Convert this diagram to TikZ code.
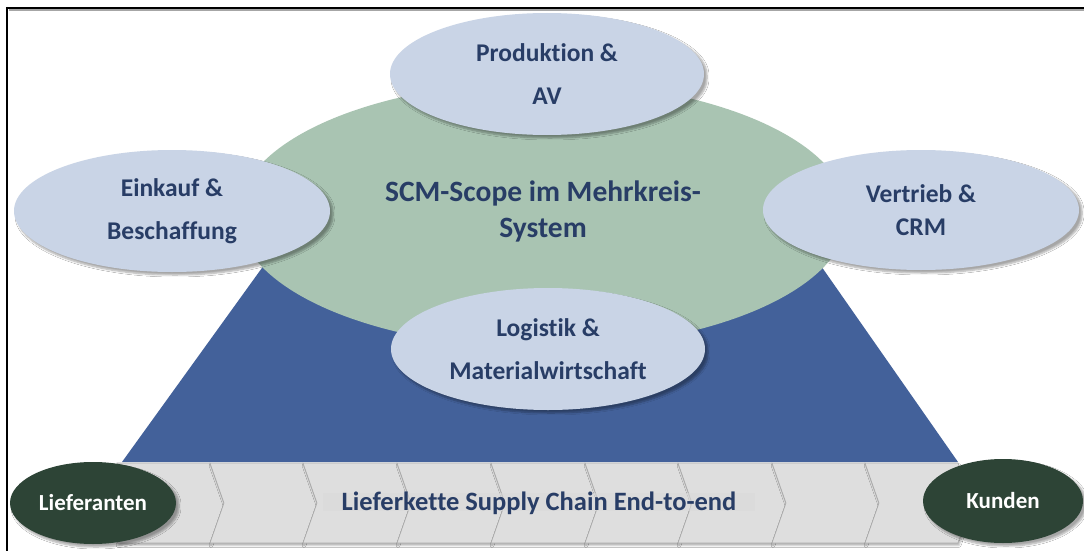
\documentclass[tikz,border=0pt]{standalone}
\usepackage{fontspec}
\setmainfont{Carlito}[Ligatures={NoCommon}]
\usetikzlibrary{shapes.geometric,shadows.blur}

\definecolor{pyramidblue}{HTML}{43619A}
\definecolor{scopegreen}{HTML}{A9C4B2}
\definecolor{areablue}{HTML}{C9D4E6}
\definecolor{endgreen}{HTML}{2D4436}
\definecolor{labelnavy}{HTML}{283D66}
\definecolor{bandgray}{HTML}{DEDEDE}
\definecolor{bandedge}{HTML}{ABABAB}

\tikzset{
  softshadow/.style={blur shadow={shadow xshift=3pt, shadow yshift=-3pt,
      shadow blur steps=6, shadow blur extra rounding=2pt, shadow opacity=35}},
  area/.style={ellipse, fill=areablue, text=labelnavy, align=center,
      inner sep=0pt, font={\bfseries\fontsize{25.5}{43}\selectfont}, softshadow},
  endpoint/.style={ellipse, fill=endgreen, text=white, inner sep=0pt,
      font={\bfseries\fontsize{23}{26}\selectfont}, softshadow},
  chevronbox/.style={fill=bandgray, draw=bandedge, line width=0.6pt,
      blur shadow={shadow xshift=1pt, shadow yshift=-2.5pt, shadow blur steps=3, shadow opacity=30}},
}

\begin{document}
\begin{tikzpicture}[x=1pt, y=-1pt]
  \useasboundingbox (0,0) rectangle (1084,551);
  \fill[white] (0,0) rectangle (1084,551);

  % frame: top and left edges
  \draw[gray!70, line width=1.5pt] (9,10) -- (1084,10);
  \draw[black, line width=2.2pt] (7,8) -- (1084,8);
  \draw[black, line width=2.2pt] (7,7) -- (7,551);

  % blue pyramid behind the scope ellipse
  \coordinate (pbl) at (122,462);
  \coordinate (pbr) at (958,462);
  \coordinate (ptl) at (347,150);
  \coordinate (ptr) at (740,150);
  \fill[pyramidblue] (pbl) -- (ptl) -- (ptr) -- (pbr) -- cycle;

  % chevron band
  \foreach \a/\b in {117/210, 210/303, 303/397, 397/491, 491/585, 585/678, 678/772, 772/865, 865/958} {
    \path[chevronbox] (\a,463) -- (\b,463) -- (\b+14,503) -- (\b,543) -- (\a,543) -- (\a+14,503) -- cycle;
  }

  % band label with its light backdrop
  \fill[black!15, opacity=0.6] (323,493) rectangle (755,511);
  \node[text=labelnavy, font={\bfseries\fontsize{26.5}{30}\selectfont}] (chain) at (539,503)
    {Lieferkette Supply Chain End-to-end};

  % scope ellipse
  \node[ellipse, fill=scopegreen, minimum width=610pt, minimum height=266pt, inner sep=0pt] (scope) at (543,215) {};
  \node[text=labelnavy, align=center, font={\bfseries\fontsize{29.5}{36}\selectfont}] (scopetext) at (543,211)
    {SCM-Scope im Mehrkreis-\\System};

  % functional areas
  \node[area, minimum width=314pt, minimum height=122pt] (prod) at (547,74)  {Produktion \&\\AV};
  \node[area, minimum width=316pt, minimum height=122pt] (eink) at (172,211) {Einkauf \&\\Beschaffung};
  \node[area, minimum width=316pt, minimum height=120pt, font={\bfseries\fontsize{25.5}{33}\selectfont}] (vert) at (921,210) {Vertrieb \&\\CRM};
  \node[area, minimum width=314pt, minimum height=122pt] (logi) at (548,349) {Logistik \&\\Materialwirtschaft};

  % chain ends
  \node[endpoint, minimum width=166pt, minimum height=82pt] (lief) at (93,503) {Lieferanten};
  \node[endpoint, minimum width=160pt, minimum height=84pt] (kund) at (1003,501) {Kunden};
\end{tikzpicture}
\end{document}
